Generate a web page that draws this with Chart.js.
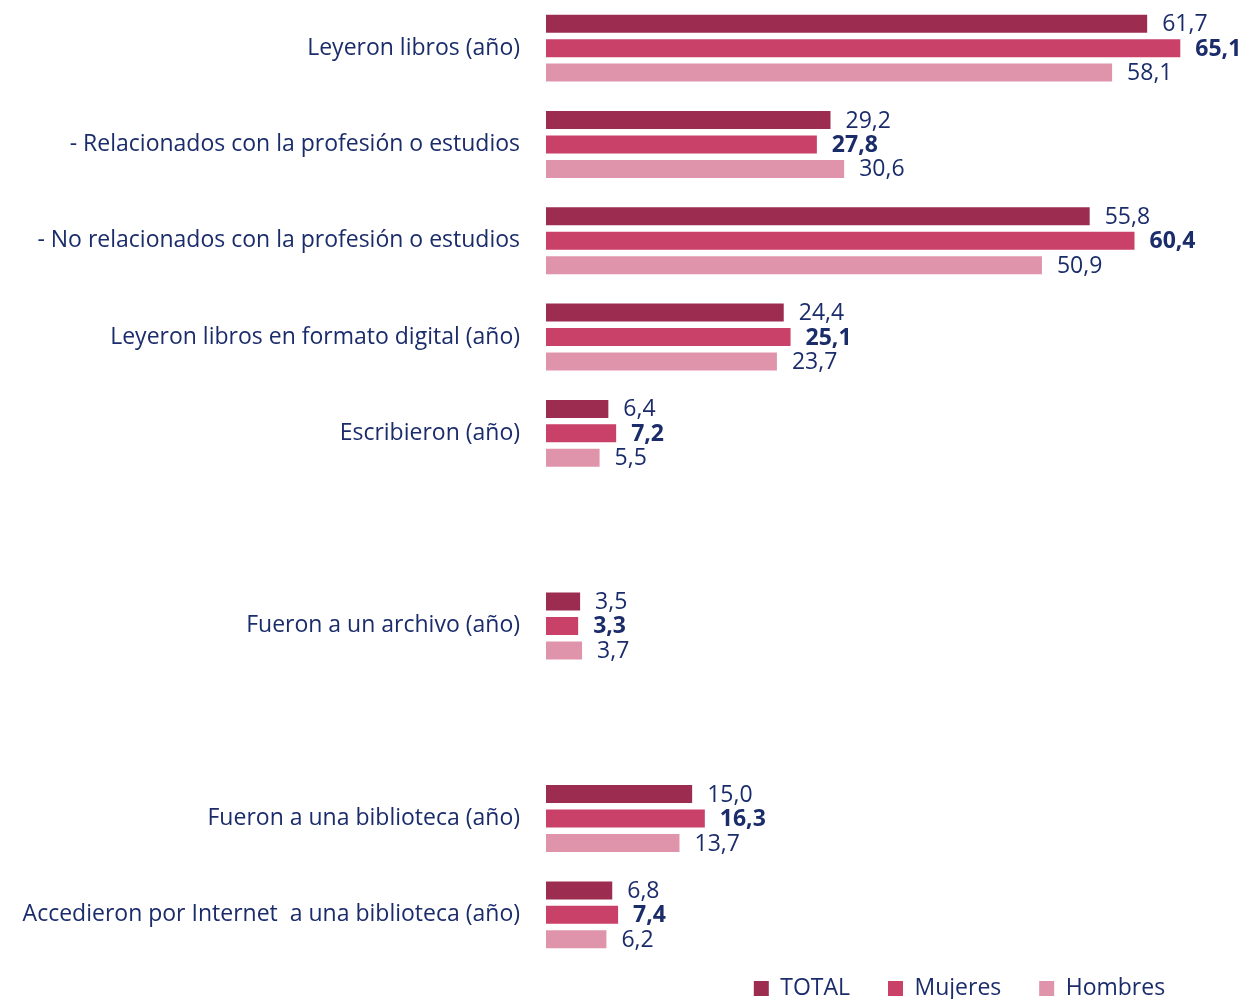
<!DOCTYPE html>
<html>
<head>
<meta charset="utf-8">
<script src="https://cdn.jsdelivr.net/npm/chart.js@4"></script>
<style>
  html, body { margin: 0; padding: 0; background: #fff; overflow: hidden; }
  #wrap { width: 1245px; height: 999px; }
</style>
</head>
<body>
<div id="wrap"><canvas id="chart"></canvas></div>
<script>
const categories = [
    'Leyeron libros (año)',
    '- Relacionados con la profesión o estudios',
    '- No relacionados con la profesión o estudios',
    'Leyeron libros en formato digital (año)',
    'Escribieron (año)',
    '',
    'Fueron a un archivo (año)',
    '',
    'Fueron a una biblioteca (año)',
    'Accedieron por Internet  a una biblioteca (año)'
];
const totalValues   = [61.7, 29.2, 55.8, 24.4, 6.4, null, 3.5, null, 15.0, 6.8];
const mujeresValues = [65.1, 27.8, 60.4, 25.1, 7.2, null, 3.3, null, 16.3, 7.4];
const hombresValues = [58.1, 30.6, 50.9, 23.7, 5.5, null, 3.7, null, 13.7, 6.2];
const seriesNames = ['TOTAL', 'Mujeres', 'Hombres'];
const seriesColors = ['#9c2d50', '#c94068', '#e094ab'];

const navy = '#1b2c6b';
Chart.defaults.font.family = "'Open Sans', sans-serif";
Chart.defaults.color = navy;

// value labels at the end of each bar (Mujeres in bold)
const valueLabels = {
    id: 'valueLabels',
    afterDatasetsDraw(chart) {
        const ctx = chart.ctx;
        ctx.save();
        ctx.fillStyle = navy;
        ctx.textAlign = 'left';
        ctx.textBaseline = 'middle';
        chart.data.datasets.forEach((ds, i) => {
            const meta = chart.getDatasetMeta(i);
            ctx.font = (i === 1 ? 'bold ' : '') + "23px 'Open Sans', sans-serif";
            meta.data.forEach((bar, j) => {
                const v = ds.data[j];
                if (v === null) return;
                ctx.fillText(v.toFixed(1).replace('.', ','), bar.x + 15, bar.y + 1);
            });
        });
        ctx.restore();
    }
};

const ctx = document.getElementById('chart').getContext('2d');
new Chart(ctx, {
    type: 'bar',
    data: {
        labels: categories,
        datasets: [
            { label: seriesNames[0], data: totalValues, backgroundColor: seriesColors[0] },
            { label: seriesNames[1], data: mujeresValues, backgroundColor: seriesColors[1] },
            { label: seriesNames[2], data: hombresValues, backgroundColor: seriesColors[2] }
        ]
    },
    options: {
        indexAxis: 'y',
        responsive: true,
        maintainAspectRatio: false,
        animation: false,
        categoryPercentage: 0.762,
        barPercentage: 0.735,
        layout: { padding: { left: 0, right: 42, top: -1, bottom: -11 } },
        scales: {
            x: { display: false, min: 0, max: 67.43 },
            y: {
                grid: { display: false, drawTicks: false },
                border: { display: false },
                ticks: { padding: 26, font: { size: 23 }, color: navy, autoSkip: false },
                afterFit(scale) {
                    scale.width = 546;
                    scale.paddingTop = 0;
                    scale.paddingBottom = 0;
                }
            }
        },
        plugins: {
            legend: {
                position: 'bottom',
                align: 'end',
                labels: {
                    boxWidth: 15,
                    boxHeight: 15,
                    padding: 14,
                    font: { size: 23 },
                    color: navy,
                    generateLabels(chart) {
                        return chart.data.datasets.map((ds, i) => ({
                            text: ds.label + '\u00a0\u00a0\u00a0\u00a0',
                            fillStyle: ds.backgroundColor,
                            strokeStyle: ds.backgroundColor,
                            lineWidth: 0,
                            fontColor: navy,
                            datasetIndex: i
                        }));
                    }
                }
            },
            tooltip: { enabled: false }
        }
    },
    plugins: [valueLabels]
});
</script>
</body>
</html>
